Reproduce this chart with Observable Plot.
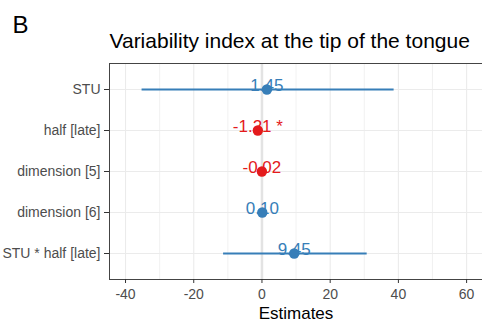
<!DOCTYPE html>
<html>
<head>
<meta charset="utf-8">
<script src="https://cdn.jsdelivr.net/npm/d3@7"></script>
<script src="https://cdn.jsdelivr.net/npm/@observablehq/plot@0.6"></script>
<style>
  html, body { margin: 0; padding: 0; background: #fff; }
  #chart { width: 482px; height: 321px; }
</style>
</head>
<body>
<div id="chart"></div>
<script>
const terms = ["STU", "half [late]", "dimension [5]", "dimension [6]", "STU * half [late]"];
const estimates = [1.45, -1.21, -0.02, 0.10, 9.45];
const ciLow = [-35.3, -2.0, -0.6, -0.5, -11.4];
const ciHigh = [38.6, -0.4, 0.55, 0.7, 30.7];
const valueLabels = ["1.45", "-1.21 *", "-0.02", "0.10", "9.45"];
const xTicks = [-40, -20, 0, 20, 40, 60];
const xMinor = [-30, -10, 10, 30, 50];
const titleText = "Variability index at the tip of the tongue";
const panelTag = "B";
const xLabel = "Estimates";

const blue = "#377EB8", red = "#E41A1C";
const rows = terms.map((t, i) => ({
  term: t, est: estimates[i], lo: ciLow[i], hi: ciHigh[i], label: valueLabels[i],
  dir: estimates[i] < 0 ? "negative" : "positive"
}));

const font = "'Liberation Sans', Arial, Helvetica, sans-serif";

const chart = Plot.plot({
  width: 482,
  height: 321,
  marginLeft: 109,
  marginRight: 0,
  marginTop: 63,
  marginBottom: 42,
  style: { fontFamily: font, background: "#fff", overflow: "visible" },
  x: { domain: [-44.7, 64.66], ticks: xTicks },
  y: { type: "point", domain: terms, padding: 0.6 },
  color: { domain: ["negative", "positive"], range: [red, blue] },
  marks: [
    Plot.ruleX(xMinor, { stroke: "#EDEDED", strokeWidth: 0.8 }),
    Plot.ruleX(xTicks, { stroke: "#EBEBEB", strokeWidth: 1.1 }),
    Plot.ruleY(terms, { y: d => d, stroke: "#EBEBEB", strokeWidth: 1.1 }),
    Plot.ruleX([0], { stroke: "#E3E3E3", strokeWidth: 2.5 }),
    Plot.frame({ anchor: "top", stroke: "#444", strokeWidth: 1 }),
    Plot.frame({ anchor: "bottom", stroke: "#444", strokeWidth: 1 }),
    Plot.frame({ anchor: "left", stroke: "#444", strokeWidth: 1 }),
    Plot.axisX({ ticks: xTicks, tickSize: 4, tickPadding: 6, fontSize: 14, color: "#4D4D4D", stroke: "#333", label: null, tickFormat: d => String(d) }),
    Plot.axisY({ tickSize: 5, tickPadding: 4, fontSize: 14, color: "#4D4D4D", stroke: "#333", label: null }),
    Plot.link(rows, { x1: "lo", x2: "hi", y1: "term", y2: "term", stroke: "dir", strokeWidth: 2 }),
    Plot.text(rows, { x: "est", y: "term", text: "label", fill: "dir", fontSize: 17, lineAnchor: "bottom", dy: 1 }),
    Plot.dot(rows, { x: "est", y: "term", fill: "dir", r: 5.2, stroke: null }),
    Plot.text([xLabel], { frameAnchor: "bottom", lineAnchor: "bottom", dy: 39, fontSize: 17, fill: "#000" }),
    Plot.text([titleText], { frameAnchor: "top-left", textAnchor: "start", lineAnchor: "bottom", dy: -16, fontSize: 21, fill: "#000" }),
    Plot.text([panelTag], { frameAnchor: "top-left", textAnchor: "start", lineAnchor: "bottom", dx: -97, dy: -31, fontSize: 24, fill: "#000" })
  ]
});
document.getElementById("chart").appendChild(chart);
</script>
</body>
</html>
